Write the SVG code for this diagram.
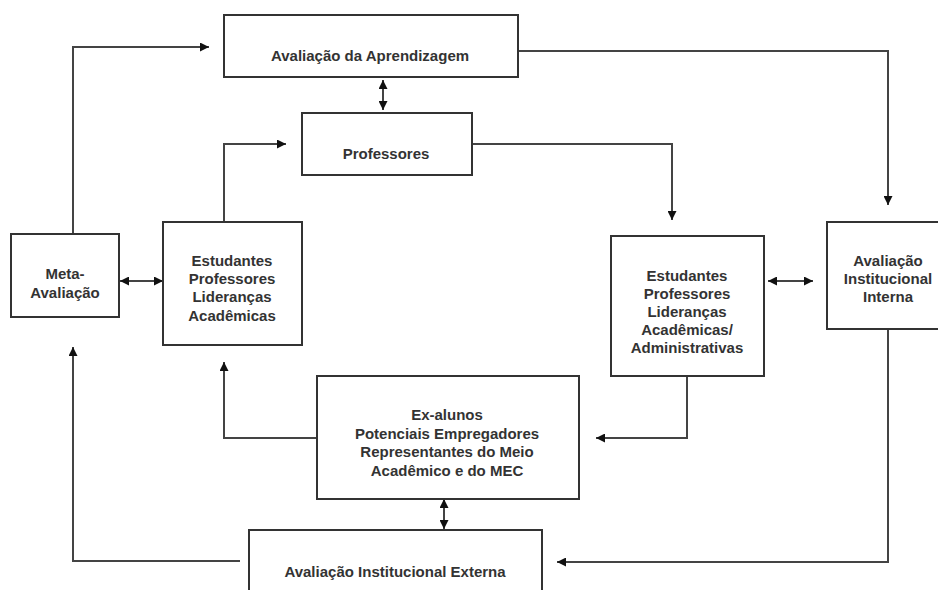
<svg xmlns="http://www.w3.org/2000/svg" width="938" height="590" viewBox="0 0 938 590">
<style>
.box{fill:#fff;stroke:#333;stroke-width:2}
.t{font-family:"Liberation Sans",Arial,sans-serif;font-weight:bold;font-size:15px;fill:#333;text-anchor:middle}
.c{fill:none;stroke:#444;stroke-width:2}
.a{marker-end:url(#ah)}
.d{marker-start:url(#ah);marker-end:url(#ah)}
</style>
<defs>
<marker id="ah" viewBox="0 0 10 10" refX="10" refY="5" markerWidth="10" markerHeight="9" markerUnits="userSpaceOnUse" orient="auto-start-reverse">
<path d="M0,0 L10,5 L0,10 z" fill="#111"/>
</marker>
</defs>
<rect width="938" height="590" fill="#fff"/>
<g id="connectors">
<path class="c a" d="M73,233 V47 H209"/>
<path class="c a" d="M224,222 V144 H286"/>
<path class="c d" d="M383,80 V110"/>
<path class="c a" d="M472,144 H672 V220"/>
<path class="c a" d="M518,51 H888 V205"/>
<path class="c d" d="M120,281 H163"/>
<path class="c d" d="M768,281 H813"/>
<path class="c a" d="M687,376 V438 H596"/>
<path class="c a" d="M317,438 H224 V362"/>
<path class="c d" d="M444,499 V529"/>
<path class="c a" d="M888,329 V562 H557"/>
<path class="c a" d="M240,561 H73 V347"/>
</g>
<g id="aprendizagem">
<rect class="box" x="224" y="15" width="294" height="62"/>
<text class="t" x="370" y="61">Avaliação da Aprendizagem</text>
</g>
<g id="professores">
<rect class="box" x="302" y="113" width="170" height="62"/>
<text class="t" x="386" y="159">Professores</text>
</g>
<g id="meta">
<rect class="box" x="11" y="234" width="108" height="83"/>
<text class="t" x="65" y="279">Meta-</text>
<text class="t" x="65" y="298">Avaliação</text>
</g>
<g id="estudantes">
<rect class="box" x="163" y="222" width="139" height="123"/>
<text class="t" x="232" y="266">Estudantes</text>
<text class="t" x="232" y="284">Professores</text>
<text class="t" x="232" y="302">Lideranças</text>
<text class="t" x="232" y="321">Acadêmicas</text>
</g>
<g id="estudantes-admin">
<rect class="box" x="611" y="236" width="153" height="140"/>
<text class="t" x="687" y="281">Estudantes</text>
<text class="t" x="687" y="299">Professores</text>
<text class="t" x="687" y="317">Lideranças</text>
<text class="t" x="687" y="335">Acadêmicas/</text>
<text class="t" x="687" y="353">Administrativas</text>
</g>
<g id="interna">
<rect class="box" x="827" y="222" width="123" height="107"/>
<text class="t" x="888" y="266">Avaliação</text>
<text class="t" x="888" y="284">Institucional</text>
<text class="t" x="888" y="302">Interna</text>
</g>
<g id="exalunos">
<rect class="box" x="317" y="376" width="262" height="123"/>
<text class="t" x="447" y="420">Ex-alunos</text>
<text class="t" x="447" y="438.5">Potenciais Empregadores</text>
<text class="t" x="447" y="457">Representantes do Meio</text>
<text class="t" x="447" y="475.5">Acadêmico e do MEC</text>
</g>
<g id="externa">
<rect class="box" x="249" y="530" width="293" height="80"/>
<text class="t" x="395" y="577">Avaliação Institucional Externa</text>
</g>
</svg>
